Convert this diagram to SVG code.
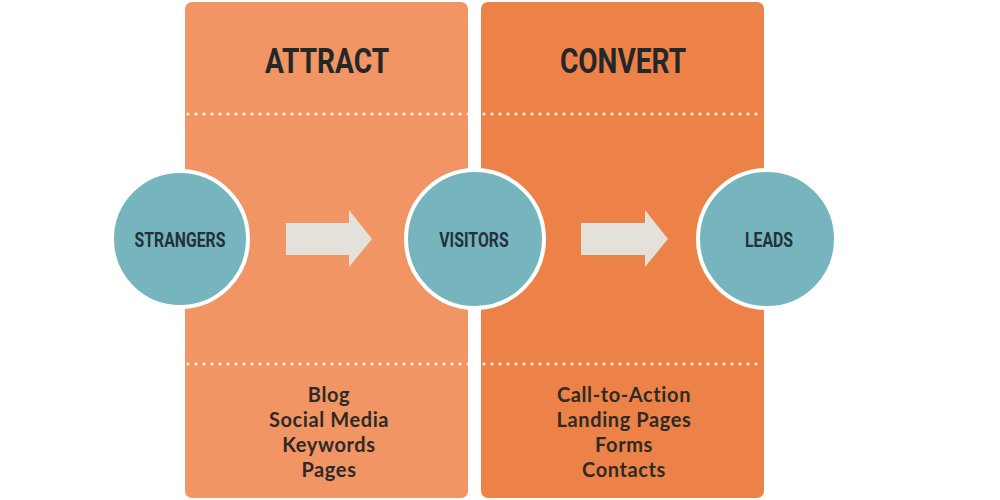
<svg xmlns="http://www.w3.org/2000/svg" width="1000" height="500" viewBox="0 0 1000 500">
<style>
.title{font-family:"Roboto","Liberation Sans",sans-serif;font-weight:700;font-size:36px;fill:#24272a;text-anchor:middle}
.clabel{font-family:"Roboto","Liberation Sans",sans-serif;font-weight:700;font-size:20px;fill:#24303a;text-anchor:middle}
.item{font-family:"Lato","Open Sans",sans-serif;font-weight:700;font-size:20px;letter-spacing:0.6px;fill:#2e2a28;text-anchor:middle}
.circ{fill:#76b5bd;stroke:#ffffff;stroke-width:4}
.dots{stroke:#ffffff;stroke-width:3;stroke-linecap:round;stroke-dasharray:0 8;fill:none;opacity:0.9}
.arrow{fill:#e3e1d9}
</style>
<rect width="1000" height="500" fill="#ffffff"/>
<g id="attract">
<rect x="185" y="2" width="283" height="496" rx="7" fill="#f09563"/>
<text class="title" x="327" y="73" transform="translate(327 0) scale(0.78 1) translate(-327 0)">ATTRACT</text>
<text class="item" x="329" y="402">Blog</text>
<text class="item" x="329" y="427">Social Media</text>
<text class="item" x="329" y="452">Keywords</text>
<text class="item" x="329" y="477">Pages</text>
</g>
<g id="convert">
<rect x="481" y="2" width="283" height="496" rx="7" fill="#ec8247"/>
<text class="title" x="623" y="73" transform="translate(623 0) scale(0.78 1) translate(-623 0)">CONVERT</text>
<text class="item" x="624" y="402">Call-to-Action</text>
<text class="item" x="624" y="427">Landing Pages</text>
<text class="item" x="624" y="452">Forms</text>
<text class="item" x="624" y="477">Contacts</text>
</g>
<g id="dividers">
<line class="dots" x1="188" y1="114" x2="764" y2="114"/>
<line class="dots" x1="188" y1="364" x2="764" y2="364"/>
</g>
<g id="connectors">
<polygon class="arrow" points="286,223 349,223 349,210 372,239 349,267 349,255 286,255"/>
<polygon class="arrow" points="581,223 645,223 645,210 668,239 645,267 645,255 581,255"/>
</g>
<g id="strangers">
<circle class="circ" cx="180" cy="239" r="68"/>
<text class="clabel" x="180" y="247" transform="translate(180 0) scale(0.79 1) translate(-180 0)">STRANGERS</text>
</g>
<g id="visitors">
<circle class="circ" cx="475" cy="239" r="69"/>
<text class="clabel" x="474" y="247" transform="translate(474 0) scale(0.79 1) translate(-474 0)">VISITORS</text>
</g>
<g id="leads">
<circle class="circ" cx="767" cy="239" r="69"/>
<text class="clabel" x="769" y="247" transform="translate(769 0) scale(0.79 1) translate(-769 0)">LEADS</text>
</g>
</svg>
